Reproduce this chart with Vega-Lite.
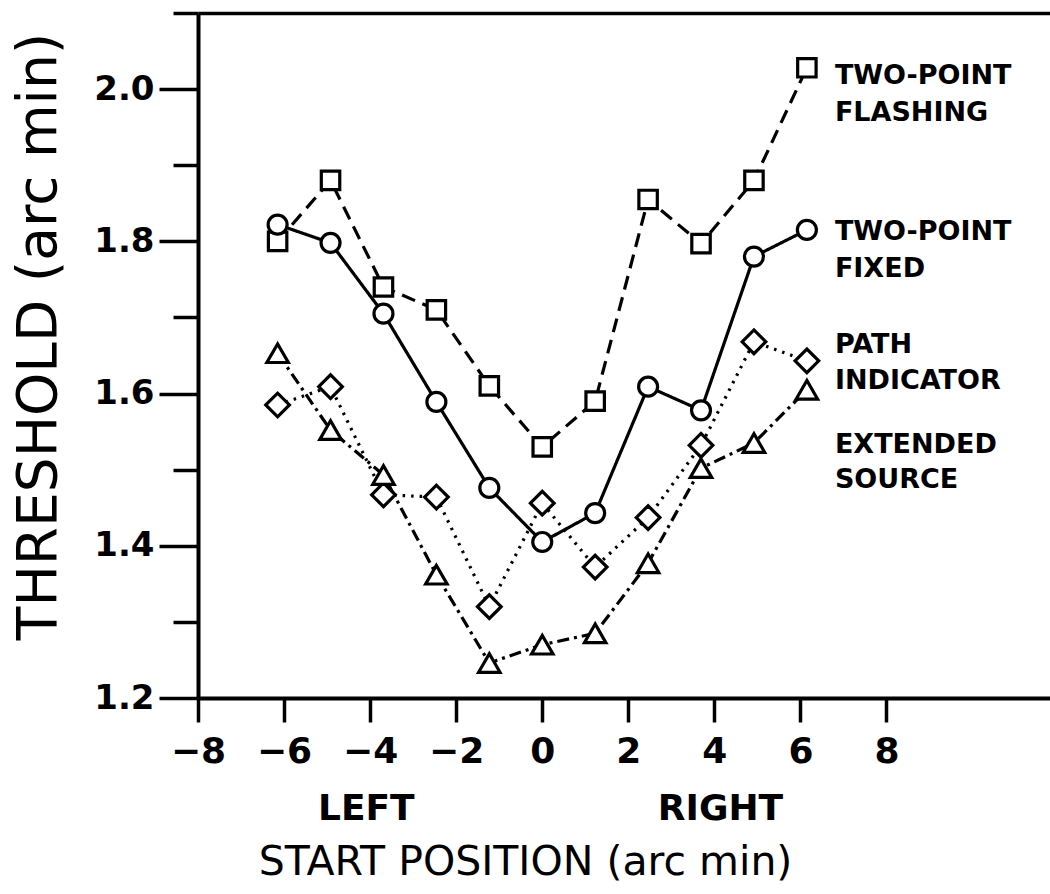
{
  "$schema": "https://vega.github.io/schema/vega-lite/v6.json",
  "width": 852,
  "height": 685,
  "autosize": {"type": "none"},
  "padding": {"left": 198, "top": 13, "right": 0, "bottom": 196},
  "background": "white",
  "config": {
    "view": {"stroke": null},
    "axis": {
      "grid": false,
      "domainColor": "black",
      "tickColor": "black",
      "labelColor": "black",
      "titleColor": "black",
      "labelFont": "DejaVu Sans",
      "titleFont": "DejaVu Sans"
    },
    "text": {"font": "DejaVu Sans", "fontWeight": "bold", "fontSize": 27, "color": "black", "align": "left", "baseline": "middle"}
  },
  "data": {
    "values": [
      {"series": "Two-point flashing", "x": -6.15, "y": 1.80},
      {"series": "Two-point flashing", "x": -4.92, "y": 1.88},
      {"series": "Two-point flashing", "x": -3.69, "y": 1.74},
      {"series": "Two-point flashing", "x": -2.46, "y": 1.71},
      {"series": "Two-point flashing", "x": -1.23, "y": 1.61},
      {"series": "Two-point flashing", "x": 0, "y": 1.53},
      {"series": "Two-point flashing", "x": 1.23, "y": 1.59},
      {"series": "Two-point flashing", "x": 2.46, "y": 1.855},
      {"series": "Two-point flashing", "x": 3.69, "y": 1.797},
      {"series": "Two-point flashing", "x": 4.92, "y": 1.88},
      {"series": "Two-point flashing", "x": 6.15, "y": 2.028},
      {"series": "Two-point fixed", "x": -6.15, "y": 1.822},
      {"series": "Two-point fixed", "x": -4.92, "y": 1.798},
      {"series": "Two-point fixed", "x": -3.69, "y": 1.705},
      {"series": "Two-point fixed", "x": -2.46, "y": 1.589},
      {"series": "Two-point fixed", "x": -1.23, "y": 1.476},
      {"series": "Two-point fixed", "x": 0, "y": 1.405},
      {"series": "Two-point fixed", "x": 1.23, "y": 1.443},
      {"series": "Two-point fixed", "x": 2.46, "y": 1.609},
      {"series": "Two-point fixed", "x": 3.69, "y": 1.578},
      {"series": "Two-point fixed", "x": 4.92, "y": 1.78},
      {"series": "Two-point fixed", "x": 6.15, "y": 1.815},
      {"series": "Path indicator", "x": -6.15, "y": 1.585},
      {"series": "Path indicator", "x": -4.92, "y": 1.609},
      {"series": "Path indicator", "x": -3.69, "y": 1.467},
      {"series": "Path indicator", "x": -2.46, "y": 1.464},
      {"series": "Path indicator", "x": -1.23, "y": 1.32},
      {"series": "Path indicator", "x": 0, "y": 1.456},
      {"series": "Path indicator", "x": 1.23, "y": 1.372},
      {"series": "Path indicator", "x": 2.46, "y": 1.437},
      {"series": "Path indicator", "x": 3.69, "y": 1.532},
      {"series": "Path indicator", "x": 4.92, "y": 1.668},
      {"series": "Path indicator", "x": 6.15, "y": 1.643},
      {"series": "Extended source", "x": -6.15, "y": 1.653},
      {"series": "Extended source", "x": -4.92, "y": 1.552},
      {"series": "Extended source", "x": -3.69, "y": 1.493},
      {"series": "Extended source", "x": -2.46, "y": 1.362},
      {"series": "Extended source", "x": -1.23, "y": 1.246},
      {"series": "Extended source", "x": 0, "y": 1.27},
      {"series": "Extended source", "x": 1.23, "y": 1.285},
      {"series": "Extended source", "x": 2.46, "y": 1.377},
      {"series": "Extended source", "x": 3.69, "y": 1.502},
      {"series": "Extended source", "x": 4.92, "y": 1.535},
      {"series": "Extended source", "x": 6.15, "y": 1.605}
    ]
  },
  "resolve": {"axis": {"x": "independent", "y": "independent"}},
  "layer": [
    {
      "mark": {"type": "line", "color": "black", "strokeWidth": 3.2},
      "encoding": {
        "x": {
          "field": "x", "type": "quantitative",
          "scale": {"domain": [-8, 11.8], "nice": false, "zero": false},
          "axis": {
            "orient": "bottom",
            "values": [-8, -6, -4, -2, 0, 2, 4, 6, 8],
            "tickSize": 24, "tickWidth": 3.5, "domainWidth": 4,
            "labelFontSize": 36, "labelFontWeight": "bold",
            "labelBaseline": "middle", "labelPadding": 29,
            "labelFlush": false, "labelOverlap": false,
            "title": "START POSITION (arc min)",
            "titleFontSize": 41, "titleFontWeight": "normal",
            "titleX": 327, "titleY": 164,
            "titleBaseline": "middle", "titleAlign": "center"
          }
        },
        "y": {
          "field": "y", "type": "quantitative",
          "scale": {"domain": [1.2, 2.1], "nice": false, "zero": false},
          "axis": {
            "orient": "left",
            "values": [1.2, 1.4, 1.6, 1.8, 2.0],
            "labelExpr": "format(datum.value, '.1f')",
            "tickSize": 39, "tickWidth": 3.5, "domainWidth": 4,
            "labelFontSize": 34, "labelFontWeight": "bold", "labelPadding": 5,
            "title": "THRESHOLD (arc min)",
            "titleFontSize": 55, "titleFontWeight": "normal",
            "titleX": -160, "titleY": 323, "titleAngle": -90,
            "titleBaseline": "middle", "titleAlign": "center"
          }
        },
        "detail": {"field": "series"},
        "strokeDash": {
          "field": "series", "type": "nominal",
          "scale": {
            "domain": ["Two-point flashing", "Two-point fixed", "Path indicator", "Extended source"],
            "range": [[14, 8], [1, 0], [2.5, 6], [12, 5, 3, 5]]
          },
          "legend": null
        }
      }
    },
    {
      "mark": {"type": "point", "filled": true, "fill": "white", "stroke": "black", "strokeWidth": 3.2, "opacity": 1},
      "encoding": {
        "x": {
          "field": "x", "type": "quantitative",
          "scale": {"domain": [-8, 11.8], "nice": false, "zero": false},
          "axis": {
            "orient": "bottom",
            "values": [-4.1, 4.13],
            "labelExpr": "datum.value < 0 ? 'LEFT' : 'RIGHT'",
            "ticks": false, "domain": false,
            "labelFontSize": 36, "labelFontWeight": "bold",
            "labelBaseline": "middle", "labelPadding": 110,
            "labelFlush": false, "labelOverlap": false,
            "title": null
          }
        },
        "y": {
          "field": "y", "type": "quantitative",
          "scale": {"domain": [1.2, 2.1], "nice": false, "zero": false},
          "axis": {
            "orient": "left",
            "values": [1.3, 1.5, 1.7, 1.9, 2.1],
            "tickSize": 25, "tickWidth": 3.5,
            "labels": false, "domain": false, "title": null
          }
        },
        "shape": {
          "field": "series", "type": "nominal",
          "scale": {
            "domain": ["Two-point flashing", "Two-point fixed", "Path indicator", "Extended source"],
            "range": ["square", "circle", "diamond", "triangle-up"]
          },
          "legend": null
        },
        "size": {
          "field": "series", "type": "nominal",
          "scale": {
            "type": "ordinal",
            "domain": ["Two-point flashing", "Two-point fixed", "Path indicator", "Extended source"],
            "range": [340, 360, 560, 460]
          },
          "legend": null
        }
      }
    },
    {
      "transform": [{"filter": "datum.series === 'Two-point flashing' && datum.x > 6"}],
      "mark": {"type": "text", "text": ["TWO-POINT", "FLASHING"], "lineHeight": 37, "dx": 28, "dy": 8},
      "encoding": {
        "x": {
          "field": "x", "type": "quantitative",
          "scale": {"domain": [-8, 11.8], "nice": false, "zero": false},
          "axis": {"orient": "top", "ticks": false, "labels": false, "domainWidth": 3.5, "title": null}
        },
        "y": {"field": "y", "type": "quantitative", "scale": {"domain": [1.2, 2.1], "nice": false, "zero": false}, "axis": null}
      }
    },
    {
      "transform": [{"filter": "datum.series === 'Two-point fixed' && datum.x > 6"}],
      "mark": {"type": "text", "text": ["TWO-POINT", "FIXED"], "lineHeight": 37, "dx": 28, "dy": 2},
      "encoding": {
        "x": {"field": "x", "type": "quantitative", "scale": {"domain": [-8, 11.8], "nice": false, "zero": false}, "axis": null},
        "y": {"field": "y", "type": "quantitative", "scale": {"domain": [1.2, 2.1], "nice": false, "zero": false}, "axis": null}
      }
    },
    {
      "transform": [{"filter": "datum.series === 'Path indicator' && datum.x > 6"}],
      "mark": {"type": "text", "text": ["PATH", "INDICATOR"], "lineHeight": 36, "dx": 28, "dy": -16},
      "encoding": {
        "x": {"field": "x", "type": "quantitative", "scale": {"domain": [-8, 11.8], "nice": false, "zero": false}, "axis": null},
        "y": {"field": "y", "type": "quantitative", "scale": {"domain": [1.2, 2.1], "nice": false, "zero": false}, "axis": null}
      }
    },
    {
      "transform": [{"filter": "datum.series === 'Extended source' && datum.x > 6"}],
      "mark": {"type": "text", "text": ["EXTENDED", "SOURCE"], "lineHeight": 35, "dx": 28, "dy": 55},
      "encoding": {
        "x": {"field": "x", "type": "quantitative", "scale": {"domain": [-8, 11.8], "nice": false, "zero": false}, "axis": null},
        "y": {"field": "y", "type": "quantitative", "scale": {"domain": [1.2, 2.1], "nice": false, "zero": false}, "axis": null}
      }
    }
  ]
}
